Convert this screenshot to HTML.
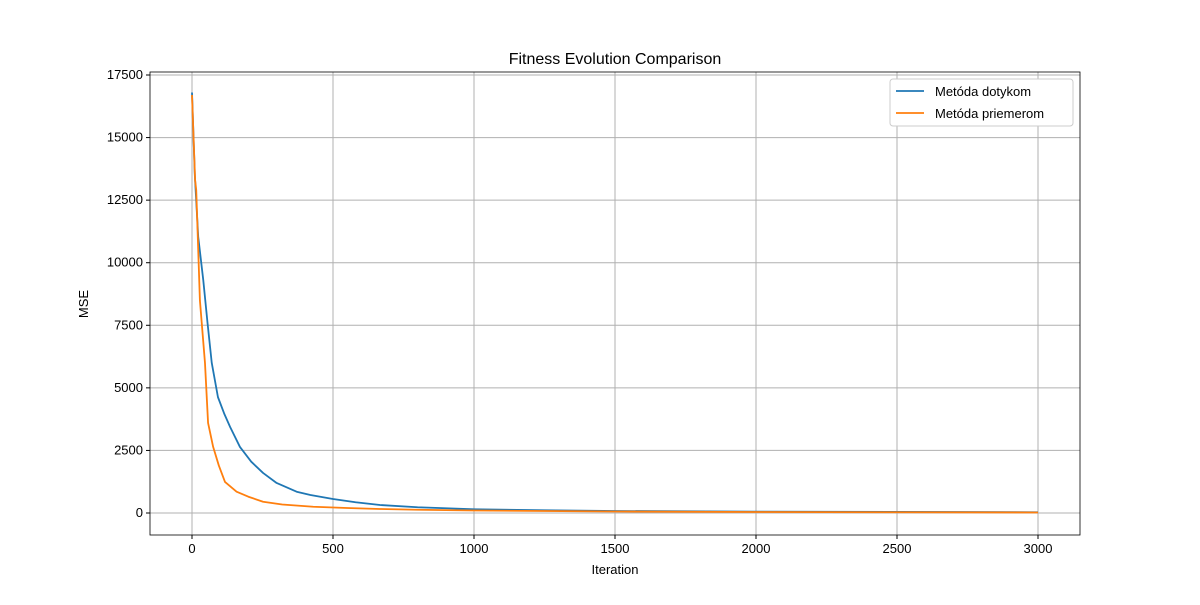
<!DOCTYPE html>
<html><head><meta charset="utf-8"><style>
body{margin:0;background:#fff;font-family:"Liberation Sans","DejaVu Sans",sans-serif}
svg text{font-family:"Liberation Sans","DejaVu Sans",sans-serif;font-size:13px;fill:#000}
</style></head><body>
<svg id="chart" width="1200" height="600"></svg>
<script>
const blueIters=[0,10,22,40,55,70,92,115,135,170,210,252,300,371,420,500,580,667,800,1000,1250,1500,2000,2500,3000];
const blueVals=[16800,13500,11040,9300,7600,6000,4630,3950,3440,2640,2050,1600,1200,850,720,560,430,320,230,150,110,80,55,45,30];
const orangeIters=[0,11,15,28,46,57,75,95,117,158,200,252,320,430,550,667,800,1000,1500,2000,2500,3000];
const orangeVals=[16700,13300,12900,8500,6000,3600,2640,1900,1240,850,650,450,340,250,200,160,130,100,60,40,30,20];
const xTicks=[0,500,1000,1500,2000,2500,3000];
const yTicks=[0,2500,5000,7500,10000,12500,15000,17500];
const L=150,R=1080,T=72,B=535;
const X=v=>192+v*(846/3000);
const Y=v=>513-v*(438/17500);
const svg=document.getElementById('chart');
const NS='http://www.w3.org/2000/svg';
function mk(t,a,p){const e=document.createElementNS(NS,t);for(const k in a)e.setAttribute(k,a[k]);(p||svg).appendChild(e);return e;}
xTicks.forEach(v=>{
const g=mk('line',{x1:X(v),x2:X(v),y1:T,y2:B,stroke:'#b0b0b0','stroke-width':1});


mk('line',{x1:X(v),x2:X(v),y1:B,y2:B+4,stroke:'#000'});
const t=mk('text',{x:X(v),y:B+18,'text-anchor':'middle'});t.textContent=v;


});
yTicks.forEach(v=>{
const g=mk('line',{x1:L,x2:R,y1:Y(v),y2:Y(v),stroke:'#b0b0b0','stroke-width':1});


mk('line',{x1:L-4,x2:L,y1:Y(v),y2:Y(v),stroke:'#000'});
const t=mk('text',{x:L-7,y:Y(v)+4,'text-anchor':'end'});t.textContent=v;


});
function line(xs,ys,c,n){const p=mk('polyline',{points:xs.map((x,i)=>X(x)+','+Y(ys[i])).join(' '),fill:'none',stroke:c,'stroke-width':1.8,'stroke-linejoin':'round'});

}
line(blueIters,blueVals,'#1f77b4','series-dotykom');
line(orangeIters,orangeVals,'#ff7f0e','series-priemerom');
const fr=mk('rect',{x:L,y:T,width:R-L,height:B-T,fill:'none',stroke:'#000','stroke-width':0.8});


let t=mk('text',{x:615,y:64,'text-anchor':'middle'});t.style.fontSize='16px';t.textContent='Fitness Evolution Comparison';


t=mk('text',{x:615,y:574,'text-anchor':'middle'});t.textContent='Iteration';


t=mk('text',{x:88,y:304,'text-anchor':'middle',transform:'rotate(-90 88 304)'});t.textContent='MSE';


const lg=mk('rect',{x:890,y:79,width:183,height:47,fill:'#fff',stroke:'#ccc',rx:3});


[['Metóda dotykom','#1f77b4',91],['Metóda priemerom','#ff7f0e',113]].forEach(([n,c,y])=>{
mk('line',{x1:896,x2:924,y1:y,y2:y,stroke:c,'stroke-width':1.8});
const e=mk('text',{x:935,y:y+5});e.textContent=n;


});
</script></body></html>
